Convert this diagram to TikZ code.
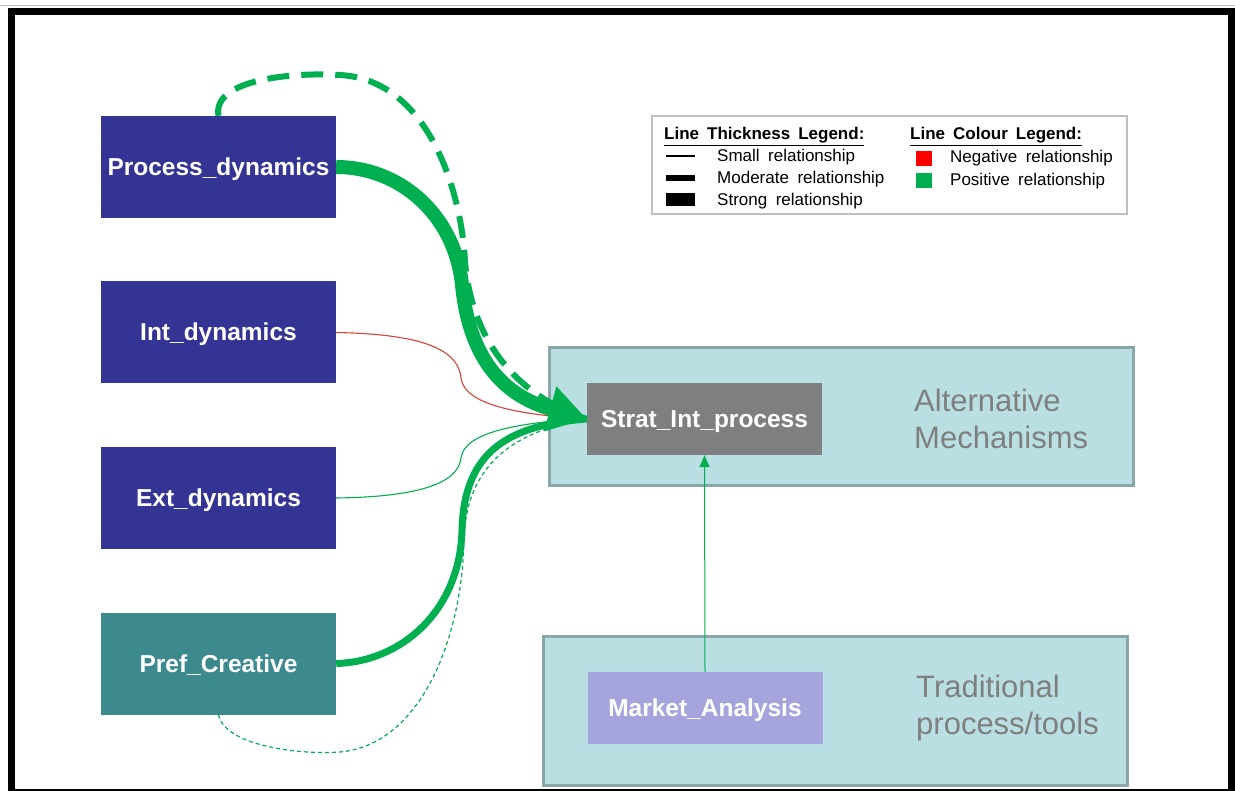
\documentclass[tikz,border=0pt]{standalone}
\usepackage{fontspec}
\setmainfont{Liberation Sans}
\usetikzlibrary{arrows.meta}

\definecolor{dynblue}{HTML}{343495}
\definecolor{prefteal}{HTML}{3D8A8E}
\definecolor{stratgrey}{HTML}{7F7F7F}
\definecolor{marketlav}{HTML}{A5A4DD}
\definecolor{groupfill}{HTML}{BADFE2}
\definecolor{groupedge}{HTML}{8AA6A9}
\definecolor{posgreen}{HTML}{00B050}
\definecolor{neglinered}{HTML}{D9443A}
\definecolor{legendedge}{HTML}{BFBFBF}
\definecolor{grouptext}{HTML}{7F7F7F}

% wider word spacing used in the legend entries
\newcommand{\legspacing}[1]{\spaceskip=#1\relax}

\tikzset{
  factor/.style={fill=#1, draw=none, text=white, inner sep=0pt,
    minimum width=235pt, minimum height=102pt,
    text height=17pt, text depth=0pt,
    font=\fontsize{24.5}{29}\selectfont\bfseries},
  inner/.style={fill=#1, draw=none, text=white, inner sep=0pt,
    minimum width=235pt, minimum height=72pt,
    text height=17pt, text depth=0pt,
    font=\fontsize{24.5}{29}\selectfont\bfseries},
  group/.style={fill=groupfill, draw=groupedge, line width=3pt, inner sep=0pt},
  grouplabel/.style={text=grouptext, anchor=west, align=left, inner sep=0pt,
    font=\fontsize{31}{37}\selectfont},
  legtext/.style={anchor=base west, inner sep=0pt,
    font=\fontsize{17}{20}\selectfont},
  leghead/.style={legtext, font=\fontsize{17}{20}\selectfont\bfseries},
  smallrel/.style={line width=1.1pt},
  modrel/.style={line width=6pt},
  strongrel/.style={line width=14pt},
}

\begin{document}
\begin{tikzpicture}[x=1pt, y=-1pt]
\useasboundingbox (0,0) rectangle (1235,791);

% page frame
\fill[white] (0,0) rectangle (1235,791);
\draw[black!25, line width=1pt] (0,6) -- (1235,6);
\fill[black] (8,8) rectangle (1235,791);
\fill[white] (15,15.5) rectangle (1228,789);

% groups on the right
\node[group, minimum width=584pt, minimum height=138pt] (alt) at (841,417) {};
\node[group, minimum width=584pt, minimum height=149pt] (trad) at (835,710.5) {};
\node[grouplabel] (altlbl) at (914,419) {Alternative\\Mechanisms};
\node[grouplabel] (tradlbl) at (916,708) {Traditional\\process/tools};

% factor boxes on the left
\node[factor=dynblue]  (pd)   at (218.5,167)   {Process\_dynamics};
\node[factor=dynblue]  (intd) at (218.5,332.5) {Int\_dynamics};
\node[factor=dynblue]  (extd) at (218.5,498)   {Ext\_dynamics};
\node[factor=prefteal] (pref) at (218.5,663.5) {Pref\_Creative};

% inner boxes
\node[inner=stratgrey] (strat)  at (704.5,419) {Strat\_Int\_process};
\node[inner=marketlav] (market) at (705,708) {Market\_Analysis};

% legend
\node[draw=legendedge, line width=2pt, minimum width=475pt, minimum height=98pt,
      inner sep=0pt] (legend) at (889.5,165) {};
\node[leghead] (lh1) at (664,140) {\legspacing{8pt}\underline{Line Thickness Legend:}};
\node[leghead] (lh2) at (910,140) {\legspacing{8pt}\underline{Line Colour Legend:}};
\draw[smallrel]  (666,156) -- (695,156);
\draw[modrel]    (666,178.5) -- (695,178.5);
\draw[line width=13pt] (666,200) -- (695,200);
\node[legtext] (l1) at (717,162) {\legspacing{8.5pt}Small relationship};
\node[legtext] (l2) at (717,184) {\legspacing{8.5pt}Moderate relationship};
\node[legtext] (l3) at (717,205.5) {\legspacing{8.5pt}Strong relationship};
\fill[red] (916,151) rectangle (932,166);
\fill[posgreen] (916,173) rectangle (932,188);
\node[legtext] (l4) at (950,162.5) {\legspacing{8.5pt}Negative relationship};
\node[legtext] (l5) at (950,186) {\legspacing{8.5pt}Positive relationship};

% relationships into Strat_Int_process
\draw[posgreen, line width=1.2pt, dash pattern=on 4pt off 3pt]
  (pref.south) .. controls (225,746) and (300,755) .. (340,752)
  .. controls (420,745) and (462,640) .. (464,540)
  .. controls (466,460) and (520,430) .. (strat.west);
\draw[neglinered, smallrel]
  (intd.east) .. controls (410,334) and (458,345) .. (461,378)
  .. controls (464,405) and (520,415) .. (strat.west);
\draw[posgreen, smallrel]
  (extd.east) .. controls (410,497) and (458,486) .. (461,458)
  .. controls (464,432) and (520,422) .. (strat.west);
\draw[posgreen, line width=7pt]
  (pref.east) .. controls (400,662) and (460,612) .. (462,530)
  .. controls (464,450) and (510,425) .. (strat.west);
\draw[posgreen, modrel, dash pattern=on 22pt off 12pt]
  (pd.north) .. controls (212,80) and (290,72) .. (340,75)
  .. controls (430,80) and (462,195) .. (465,262)
  .. controls (472,340) and (515,395) .. (strat.west);
\draw[posgreen, strongrel, -{Triangle[length=38pt,width=44pt]}]
  (pd.east) .. controls (400,167) and (455,215) .. (462,285)
  .. controls (469,355) and (500,395) .. (strat.west);

% market analysis feeds the strategic process
\draw[posgreen, line width=1pt, -{Triangle[length=12pt,width=10pt]}]
  (market.north) -- (strat.south);
\end{tikzpicture}
\end{document}
